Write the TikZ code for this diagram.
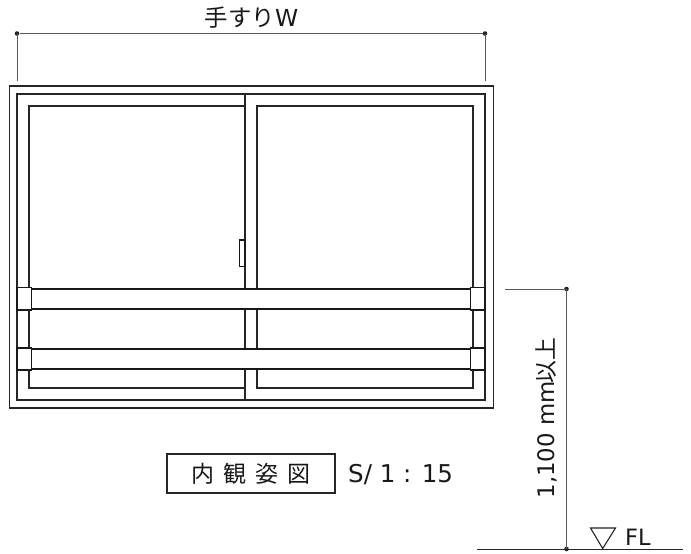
\documentclass[tikz,border=0pt]{standalone}
\usepackage{fontspec}
\setmainfont{DejaVu Sans}
\newfontfamily\cjk{Noto Sans CJK JP}
\tikzset{
  frameline/.style={draw=black!85,line width=1.1pt},
  railbox/.style={draw=black!90,fill=white,line width=1.15pt},
  dimline/.style={draw=black!65,line width=0.9pt},
  enddot/.style={circle,fill=black!85,inner sep=0pt,minimum size=4.6pt},
  lbl/.style={inner sep=0pt,text=black!90}
}
\begin{document}
\begin{tikzpicture}[x=1pt,y=-1pt]
\useasboundingbox[fill=white] (0,0) rectangle (691,554);
% window frames
\draw[frameline] (9.5,86) rectangle (493.5,408);
\draw[frameline] (17,94) rectangle (485,400);
\draw[frameline] (29,106) rectangle (245,388);
\draw[frameline] (257,106) rectangle (473,388);
\draw[frameline] (245,94) -- (245,400);
% handle
\draw[railbox] (239.7,240) rectangle (245,266.5);
% rails
\draw[railbox] (31,289) rectangle (471,309);
\draw[railbox] (31,349) rectangle (471,369);
% brackets
\draw[railbox] (17,287.5) rectangle (31.5,310);
\draw[railbox] (17,348) rectangle (31.5,370);
\draw[railbox] (470.7,287.5) rectangle (485,310);
\draw[railbox] (470.7,348) rectangle (485,370);
% top dimension
\node[enddot] (tl) at (17,33.5) {};
\node[enddot] (tr) at (485,33.5) {};
\coordinate (tlx) at (17,81);
\coordinate (trx) at (485,81);
\draw[dimline] (tl) -- (tr);
\draw[dimline] (tl.center) -- (tlx);
\draw[dimline] (tr.center) -- (trx);
\node[lbl,font=\fontsize{23.4}{24}\selectfont] (w) at (251.5,17.5) {{\cjk 手すり}W};
% height dimension
\node[enddot] (hu) at (566.5,289) {};
\node[enddot] (hl) at (566.5,549) {};
\coordinate (hux) at (505,289);
\coordinate (gl) at (477,549);
\coordinate (gr) at (683,549);
\draw[dimline] (hux) -- (hu.center);
\draw[dimline] (hu.center) -- (hl.center);
\draw[draw=black!85,line width=1pt] (gl) -- (gr);
\node[lbl,rotate=90,font=\fontsize{22.8}{24}\selectfont] (h) at (546.5,418) {1,100 mm{\cjk\hspace{-2pt}以上}};
% FL mark
\draw[draw=black!85,line width=1.1pt] (590.5,528) -- (615.5,528) -- (602.7,548.5) -- cycle;
\node[lbl,anchor=west,font=\fontsize{22.5}{24}\selectfont] (fl) at (625,537) {FL};
% title
\node[draw=black!85,line width=1.1pt,fill=white,minimum width=168pt,minimum height=39pt,inner sep=0pt,text=black!90,font=\fontsize{23}{24}\selectfont\cjk] (t) at (251,473.5) {内\hspace{9pt}観\hspace{9pt}姿\hspace{9pt}図\hspace{4pt}};
\node[lbl,anchor=west,font=\fontsize{24.5}{25}\selectfont] (s) at (348,475) {S/ 1 : 15};
\end{tikzpicture}
\end{document}
